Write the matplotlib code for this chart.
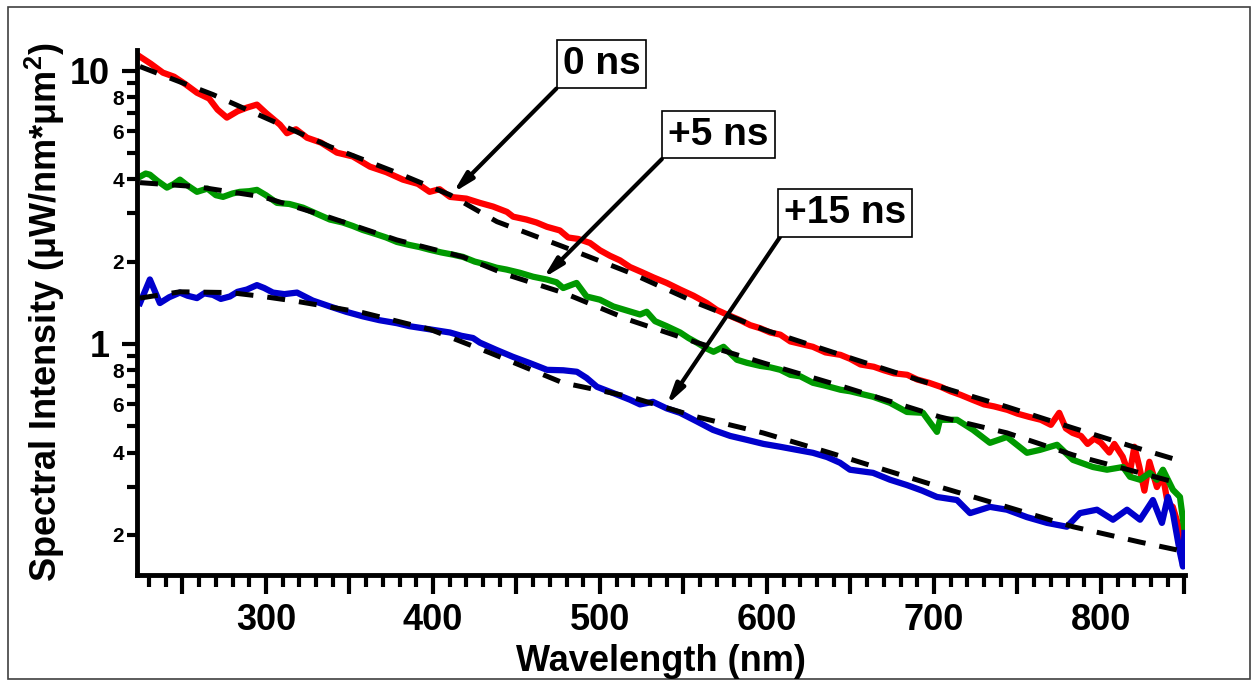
import numpy as np
import matplotlib
matplotlib.use("Agg")
import matplotlib.pyplot as plt
from matplotlib.ticker import FixedLocator, FuncFormatter
from matplotlib.patches import Rectangle

plt.rcParams['font.family'] = ['Liberation Sans', 'DejaVu Sans']
plt.rcParams['font.weight'] = 'bold'
plt.rcParams['mathtext.fontset'] = 'custom'
plt.rcParams['mathtext.rm'] = 'Liberation Sans:bold'
plt.rcParams['mathtext.it'] = 'Liberation Sans:bold'
plt.rcParams['mathtext.bf'] = 'Liberation Sans:bold'

# measured spectra (nm, uW/nm*um^2)
wl_0ns = [224.6, 231, 238.3, 245, 252, 258.7, 266, 271, 276.6, 283, 288.6, 294.6,
          300, 308.4, 312.6, 318, 324.6, 333, 342.5, 352, 362.3, 372, 382, 391,
          398, 404, 410.2, 420, 428.1, 436, 444.3, 448, 456, 462, 468.3, 476, 481,
          487, 494, 500, 506, 512, 518, 525, 532, 540, 548, 556, 564, 570, 576,
          584, 590, 596, 602, 608, 614, 620, 627.5, 635, 644, 650, 656, 664, 670,
          676, 684, 690, 697, 704, 710, 716, 723, 730, 736, 744, 750, 757, 764,
          770, 775, 779, 783, 788, 792, 796, 800, 805, 808, 813, 817, 820, 823,
          826, 829, 833.5, 837, 840, 843, 846, 849, 850]
int_0ns = [11.25, 10.6, 9.83, 9.5, 8.9, 8.3, 7.9, 7.2, 6.73, 7.1, 7.32, 7.51,
           7.0, 6.34, 5.9, 6.1, 5.68, 5.45, 5.01, 4.85, 4.45, 4.25, 3.99, 3.85,
           3.6, 3.68, 3.45, 3.4, 3.28, 3.18, 3.04, 2.92, 2.85, 2.78, 2.68, 2.6, 2.45,
           2.42, 2.34, 2.2, 2.1, 2.02, 1.91, 1.83, 1.75, 1.67, 1.58, 1.5, 1.41, 1.33, 1.28,
           1.22, 1.17, 1.14, 1.1, 1.08, 1.02, 1.0, 0.975, 0.93, 0.911, 0.88, 0.84, 0.824, 0.8,
           0.78, 0.77, 0.74, 0.72, 0.696, 0.67, 0.65, 0.624, 0.6, 0.59, 0.573, 0.555, 0.54, 0.527,
           0.505, 0.559, 0.49, 0.472, 0.46, 0.43, 0.45, 0.434, 0.4, 0.43, 0.386, 0.33, 0.42, 0.354,
           0.29, 0.37, 0.299, 0.33, 0.26, 0.253, 0.22, 0.18, 0.17]

wl_5ns = [224.6, 228, 230.5, 235, 240.7, 245, 248.5, 253, 258.7, 265, 270, 274.3,
          280, 284.4, 290, 294.6, 300, 306.6, 314, 322.2, 330, 338.3, 346, 352, 358,
          366, 372, 378.4, 386, 392, 398, 405, 412, 418, 425, 432, 438, 444, 452, 460,
          468, 474, 478, 486, 492, 500, 508, 515, 524, 528, 533, 540, 548, 553, 558,
          564, 568, 574, 582, 588, 596, 602, 608, 614, 620, 627.5, 636, 644, 650,
          663.5, 673.7, 683.8, 693.4, 701.8, 703.6, 713.8, 723.4, 733.5, 743.7, 755.7,
          763.5, 773.7, 783.2, 795.2, 803.6, 813.2, 817.4, 823.4, 829.3, 833.5, 837.1,
          843.1, 847.3, 849.1, 850]
int_5ns = [4.09, 4.2, 4.16, 3.95, 3.73, 3.85, 3.99, 3.8, 3.6, 3.7, 3.5, 3.45,
           3.55, 3.6, 3.62, 3.66, 3.5, 3.28, 3.25, 3.15, 3.0, 2.85, 2.78, 2.7, 2.61,
           2.52, 2.45, 2.36, 2.3, 2.26, 2.21, 2.16, 2.12, 2.08, 2.0, 1.95, 1.9, 1.87, 1.82, 1.76,
           1.72, 1.68, 1.6, 1.67, 1.49, 1.45, 1.37, 1.33, 1.28, 1.31, 1.21, 1.16, 1.1, 1.05, 1.01,
           0.96, 0.935, 0.975, 0.874, 0.852, 0.83, 0.82, 0.803, 0.77, 0.76, 0.72, 0.7, 0.679, 0.67,
           0.64, 0.608, 0.563, 0.559, 0.476, 0.527, 0.527, 0.484, 0.434, 0.456, 0.399,
           0.409, 0.427, 0.376, 0.354, 0.346, 0.354, 0.326, 0.318, 0.337, 0.318, 0.346,
           0.292, 0.275, 0.227, 0.209]

wl_15ns = [224.6, 230.5, 236.5, 242, 248.5, 253, 258.7, 263, 268.3, 273, 278.4, 283,
           288.6, 294.6, 299, 304.2, 311, 318.6, 328, 338.3, 348, 358.1, 368, 378.4,
           386, 394, 402, 410.2, 417, 424, 428.1, 438, 447.9, 458, 468.3, 478, 486.2,
           492, 498.2, 508, 518, 524, 531.7, 540, 547.9, 558, 567.7, 578, 588, 598,
           607.8, 617, 627.5, 636, 643.7, 649.7, 663.5, 673.7, 683.8, 693, 701.8,
           713.8, 721.6, 733.5, 743.7, 755.7, 767.7, 779.6, 787.4, 797.6, 807.2,
           815.6, 823.4, 831.1, 836.5, 840.1, 843.1, 847.3, 849.1, 850]
int_15ns = [1.41, 1.72, 1.41, 1.48, 1.54, 1.5, 1.47, 1.53, 1.51, 1.46, 1.49, 1.55,
            1.58, 1.64, 1.6, 1.54, 1.52, 1.54, 1.44, 1.37, 1.31, 1.26, 1.22, 1.19,
            1.16, 1.14, 1.12, 1.1, 1.07, 1.05, 1.01, 0.95, 0.896, 0.85, 0.803, 0.8, 0.79,
            0.75, 0.696, 0.66, 0.624, 0.6, 0.613, 0.58, 0.559, 0.52, 0.484, 0.46, 0.445, 0.43,
            0.42, 0.41, 0.399, 0.385, 0.367, 0.346, 0.337, 0.318, 0.304, 0.29, 0.275,
            0.268, 0.24, 0.253, 0.247, 0.232, 0.221, 0.214, 0.24, 0.247, 0.227,
            0.247, 0.227, 0.268, 0.221, 0.275, 0.24, 0.172, 0.153, 0.203]

# fitted curves (dashed)
wl_fit_0ns = [224.6, 268.3, 298.2, 338.3, 378.4, 410.2, 438.3, 477.8, 518, 558.1,
              597.6, 647.9, 703.6, 743.7, 783.2, 819.2, 845.5]
fit_0ns = [10.35, 8.17, 6.78, 5.27, 4.23, 3.51, 2.8, 2.27, 1.82, 1.41,
           1.13, 0.896, 0.696, 0.588, 0.492, 0.42, 0.376]
wl_fit_5ns = [224.6, 258.7, 298.2, 338.3, 378.4, 418, 444.3, 477.8, 518, 558.1,
              597.6, 647.9, 703.6, 743.7, 783.2, 823.4, 845.5]
fit_5ns = [3.89, 3.76, 3.45, 2.9, 2.4, 2.08, 1.79, 1.54, 1.22, 1.01,
           0.852, 0.69, 0.54, 0.472, 0.392, 0.337, 0.31]
wl_fit_15ns = [224.6, 248.5, 278.4, 298.2, 318.6, 358.1, 398.2, 434.1, 477.8, 518,
               558.1, 597.6, 637.7, 703.6, 743.7, 783.2, 823.4, 845.5]
fit_15ns = [1.47, 1.55, 1.54, 1.49, 1.43, 1.3, 1.13, 0.927, 0.72, 0.64,
            0.54, 0.472, 0.399, 0.299, 0.253, 0.214, 0.188, 0.176]

labels = ['0 ns', '+5 ns', '+15 ns']
label_xy = [(501, 10.56), (571, 5.83), (647, 3.02)]
arrow_xy = [(412, 3.57), (466, 1.74), (540, 0.598)]

fig = plt.figure(figsize=(12.57, 6.81), dpi=100)
ax = fig.add_axes([0.109, 0.1557, 0.8337, 0.7709])

ax.plot(wl_0ns, int_0ns, color='#ff0000', lw=4.5, zorder=2)
ax.plot(wl_5ns, int_5ns, color='#009900', lw=4.5, zorder=2)
ax.plot(wl_15ns, int_15ns, color='#0000cc', lw=4.5, zorder=2)
for wl, fit in [(wl_fit_0ns, fit_0ns), (wl_fit_5ns, fit_5ns), (wl_fit_15ns, fit_15ns)]:
    ax.plot(wl, fit, color='black', lw=3.6, dashes=(3.6, 2.8), zorder=3)

ax.set_yscale('log')
ax.set_xlim(222.8, 850.3)
ax.set_ylim(0.1425, 11.9)

for side in ['top', 'right']:
    ax.spines[side].set_visible(False)
for side in ['left', 'bottom']:
    ax.spines[side].set_linewidth(3.5)

# x ticks: long at 100s, medium at 50s, short every 10
ax.xaxis.set_major_locator(FixedLocator(np.arange(250, 851, 50)))
ax.xaxis.set_minor_locator(FixedLocator([v for v in range(230, 851, 10) if v % 50]))
ax.xaxis.set_major_formatter(FuncFormatter(lambda v, p: '%d' % v if v % 100 == 0 else ''))
ax.tick_params(axis='x', which='major', length=14, width=3, pad=6, labelsize=26)
ax.tick_params(axis='x', which='minor', length=8.5, width=3)
for t in ax.xaxis.get_major_ticks():
    if t.get_loc() % 100:
        t.tick1line.set_markersize(11)

# y ticks: decades big, 2/4/6/8 small
ax.yaxis.set_major_locator(FixedLocator([1, 10]))
ax.yaxis.set_minor_locator(FixedLocator([0.2, 0.3, 0.4, 0.5, 0.6, 0.7, 0.8, 0.9,
                                         2, 3, 4, 5, 6, 7, 8, 9]))
ax.yaxis.set_major_formatter(FuncFormatter(lambda v, p: '%g' % v))


def minor_label(v, p):
    d = int(round(v / 10 ** np.floor(np.log10(v))))
    return str(d) if d in (2, 4, 6, 8) else ''


ax.yaxis.set_minor_formatter(FuncFormatter(minor_label))
ax.tick_params(axis='y', which='major', length=10.5, width=3, pad=9, labelsize=26)
ax.tick_params(axis='y', which='minor', length=7.5, width=3, pad=2, labelsize=15)

for text, xy_text, xy in zip(labels, label_xy, arrow_xy):
    ax.annotate(text, xy=xy, xytext=xy_text, ha='center', va='center',
                fontsize=28, fontweight='bold', annotation_clip=False,
                bbox=dict(boxstyle='square,pad=0.15', fc='white', ec='black', lw=1.2),
                arrowprops=dict(arrowstyle='-|>,head_length=0.6,head_width=0.15',
                                color='black', lw=3, relpos=(0, 0),
                                shrinkA=0, shrinkB=0, mutation_scale=20),
                zorder=5)

fig.text(661 / 1257, 1 - 671 / 681, 'Wavelength (nm)', ha='center', va='baseline',
         fontsize=26, fontweight='bold')
fig.text(45 / 1257, 0.5419, 'Spectral Intensity (μW/nm*μm$^{2}$)', rotation=90,
         ha='center', va='center', fontsize=26, fontweight='bold')

fig.patches.append(Rectangle((8 / 1257, 2 / 681), 1242 / 1257, 672 / 681, fill=False,
                             ec='#404040', lw=1.2, transform=fig.transFigure, zorder=0))

fig.savefig('out.png', dpi=100)
